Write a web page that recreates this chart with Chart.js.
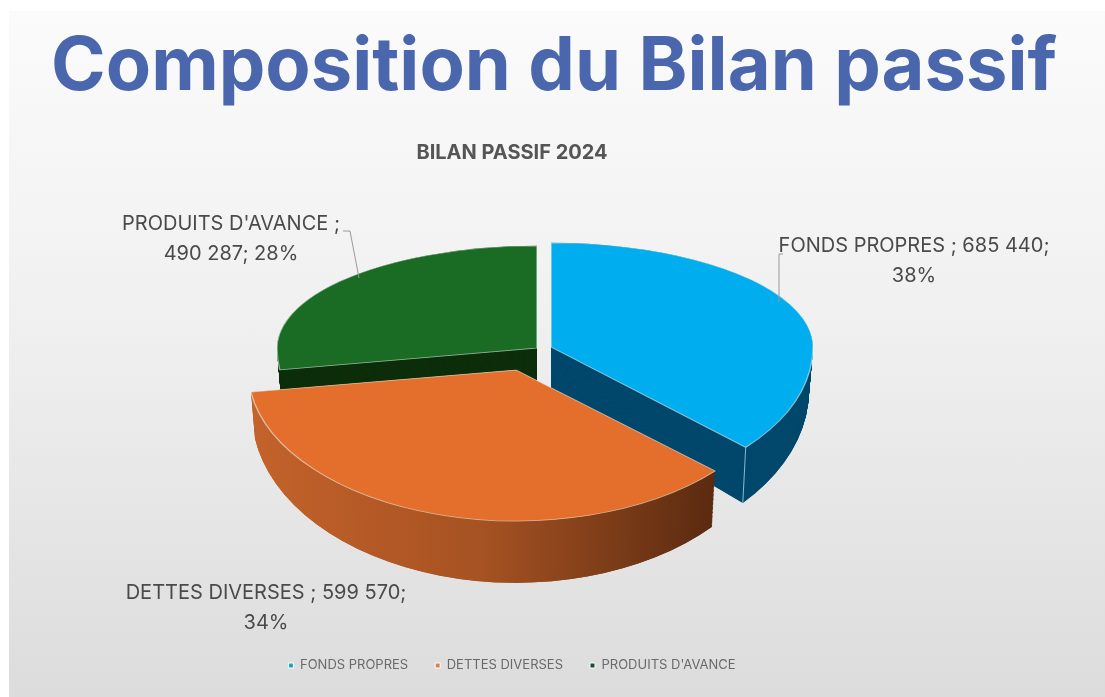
<!DOCTYPE html>
<html lang="fr">
<head>
<meta charset="utf-8">
<title>Composition du Bilan passif</title>
<script src="https://cdn.jsdelivr.net/npm/chart.js@4/dist/chart.umd.min.js"></script>
<style>
  html, body { margin: 0; padding: 0; width: 1105px; height: 697px; background: #fff; overflow: hidden; }
  #panel { position: absolute; left: 9px; top: 11px; width: 1096px; height: 686px;
    background: linear-gradient(180deg, #fbfbfb 0%, #f0f0f0 45%, #dcdcdc 100%); }
  h1 { position: absolute; left: 0; top: 18px; width: 1108px; margin: 0; text-align: center;
    font: 700 74px Inter, sans-serif; color: #4A66AC; white-space: nowrap; }
  canvas { position: absolute; left: 0; top: 0; }
</style>
</head>
<body>
<div id="panel"></div>
<h1>Composition du Bilan passif</h1>
<canvas id="pie" width="1105" height="697"></canvas>
<script>
// values
const categories = ['FONDS PROPRES', 'DETTES DIVERSES', "PRODUITS D'AVANCE"];
const amounts = [685440, 599570, 490287];
const shares = [38, 34, 28];
const topColors = ['#00AEEF', '#E46E2C', '#1A6B24'];
const legendColors = ['#1FA5C4', '#D9824A', '#14502A'];

// fake 3D: where each flattened slice lands on the page
const sliceView = [
  { cx: 551, cy: 347, rx: 262, ryTop: 104, ryBottom: 150 },
  { cx: 516, cy: 370, rx: 268, ryTop: 120, ryBottom: 151 },
  { cx: 537, cy: 348, rx: 260, ryTop: 102, ryBottom: 150 },
];
// the tilted view moves the cuts between slices a little (degrees, start of each slice)
const cutShift = [0, -7, 1];
const DEPTH = 43;      // drop of the bottom face under the slice tip
const NEAR_Y = 1.125;  // bottom face looks a bit taller
const NEAR_X = 0.985;
const WALL_STEPS = 90;

const fmtAmount = (n) => String(n).replace(/\B(?=(\d{3})+$)/g, ' ');
const rad = (d) => d * Math.PI / 180;

const labelBlocks = [
  { x: 914, y: 246, lines: [`${categories[0]} ; ${fmtAmount(amounts[0])};`, `${shares[0]}%`] },
  { x: 266, y: 593, lines: [`${categories[1]} ; ${fmtAmount(amounts[1])};`, `${shares[1]}%`] },
  { x: 231, y: 224, lines: [`${categories[2]} ;`, `${fmtAmount(amounts[2])}; ${shares[2]}%`] },
];

function viewAngles(arc, i) {
  const n = cutShift.length;
  const start = arc.startAngle + rad(cutShift[i]);
  const end = arc.endAngle + rad(i + 1 < n ? cutShift[i + 1] : 0);
  return { start, end };
}

// draw one arc through the squashed view, top half and bottom half of the ellipse separately
function drawArc(ctx, chart, arc, i, t, opts) {
  const view = sliceView[i];
  const R = arc.outerRadius;
  const saved = { options: arc.options, startAngle: arc.startAngle, endAngle: arc.endAngle, circumference: arc.circumference };
  const { start, end } = viewAngles(arc, i);
  arc.options = Object.assign({}, saved.options, opts);
  arc.startAngle = start;
  arc.endAngle = end;
  arc.circumference = end - start;
  const kx = 1 + (NEAR_X - 1) * t;
  const ky = 1 + (NEAR_Y - 1) * t;
  const y0 = Math.round(view.cy + DEPTH * t);
  const passes = [[view.ryTop, 0, y0], [view.ryBottom, y0, chart.height - y0]];
  passes.forEach(([ry, clipY, clipH]) => {
    ctx.save();
    ctx.beginPath();
    ctx.rect(0, clipY, chart.width, clipH);
    ctx.clip();
    ctx.translate(view.cx, y0);
    ctx.scale(view.rx * kx / R, ry * ky / R);
    ctx.translate(-arc.x, -arc.y);
    arc.draw(ctx);
    ctx.restore();
  });
  Object.assign(arc, saved);
}

function wallFill(ctx, arc, i) {
  if (i === 0) return '#01486C';
  if (i === 2) return '#0D2E0A';
  const g = ctx.createLinearGradient(arc.x - arc.outerRadius, 0, arc.x + arc.outerRadius * 0.75, 0);
  g.addColorStop(0, '#C4622B');
  g.addColorStop(0.5, '#A65222');
  g.addColorStop(1, '#5A2A10');
  return g;
}

// rim point of a slice at canvas angle a, t=0 top face, t=1 bottom face
function rimPoint(i, a, t) {
  const v = sliceView[i];
  const kx = 1 + (NEAR_X - 1) * t;
  const ky = 1 + (NEAR_Y - 1) * t;
  const s = Math.sin(a);
  return [v.cx + Math.cos(a) * v.rx * kx, v.cy + DEPTH * t + s * (s < 0 ? v.ryTop : v.ryBottom) * ky];
}

const pie3d = {
  id: 'pie3d',
  beforeDatasetsDraw(chart) {
    const ctx = chart.ctx;
    const arcs = chart.getDatasetMeta(0).data;
    // walls, back to front
    [2, 0, 1].forEach(i => {
      const fill = wallFill(ctx, arcs[i], i);
      for (let s = WALL_STEPS; s >= 1; s--) {
        drawArc(ctx, chart, arcs[i], i, s / WALL_STEPS, { backgroundColor: fill, borderWidth: 0 });
      }
    });
    // light edge on the corner of the blue wall
    const corner = viewAngles(arcs[0], 0).end;
    const p0 = rimPoint(0, corner, 0);
    const p1 = rimPoint(0, corner, 1);
    ctx.save();
    ctx.strokeStyle = 'rgba(170,215,235,0.8)';
    ctx.lineWidth = 1;
    ctx.beginPath();
    ctx.moveTo(p0[0], p0[1]);
    ctx.lineTo(p1[0], p1[1]);
    ctx.stroke();
    ctx.restore();
    [2, 0, 1].forEach(i => {
      drawArc(ctx, chart, arcs[i], i, 0, {});
    });
    return false;
  },
  afterDraw(chart) {
    const ctx = chart.ctx;
    ctx.save();
    // leader lines
    ctx.strokeStyle = '#9a9a9a';
    ctx.lineWidth = 1;
    ctx.beginPath();
    ctx.moveTo(343, 231); ctx.lineTo(350, 231); ctx.lineTo(359, 278);
    ctx.moveTo(779, 302); ctx.lineTo(779, 254); ctx.lineTo(783, 254);
    ctx.stroke();
    ctx.fillStyle = '#4a4a4a';
    ctx.font = '400 20px Inter, sans-serif';
    ctx.textAlign = 'center';
    ctx.textBaseline = 'middle';
    labelBlocks.forEach(b => {
      b.lines.forEach((line, n) => ctx.fillText(line, b.x, b.y + n * 30));
    });
    ctx.restore();
  }
};

new Chart(document.getElementById('pie'), {
  type: 'pie',
  data: {
    labels: categories,
    datasets: [{
      data: amounts,
      backgroundColor: topColors,
      borderColor: 'rgba(235,245,240,0.6)',
      borderWidth: 1.2,
    }]
  },
  options: {
    responsive: false,
    animation: false,
    layout: { padding: { top: 0, right: 81, bottom: 15, left: 0 } },
    plugins: {
      title: {
        display: true,
        text: 'BILAN PASSIF 2024',
        color: '#555',
        font: { family: 'Inter, sans-serif', size: 20, weight: '700' },
        padding: { top: 141, bottom: 10 }
      },
      legend: {
        position: 'bottom',
        labels: {
          boxWidth: 5,
          boxHeight: 5,
          padding: 27,
          color: '#6a6a6a',
          font: { family: 'Inter, sans-serif', size: 13 },
          generateLabels: () => categories.map((c, i) => ({
            text: c, fillStyle: legendColors[i], fontColor: '#6a6a6a', strokeStyle: '#fff', lineWidth: 1, datasetIndex: 0, index: i
          }))
        }
      },
      tooltip: { enabled: false }
    }
  },
  plugins: [pie3d]
});
</script>
</body>
</html>
